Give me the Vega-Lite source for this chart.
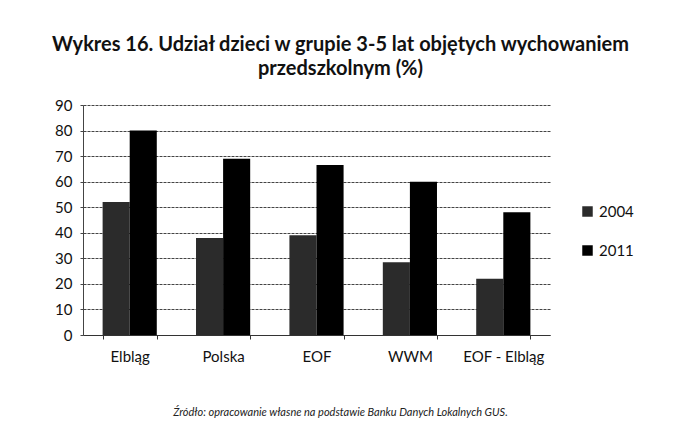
{
  "$schema": "https://vega.github.io/schema/vega-lite/v6.json",
  "width": 467,
  "height": 230,
  "autosize": {"type": "none"},
  "padding": {"left": 83, "top": 105, "right": 123, "bottom": 97},
  "background": "white",
  "config": {"font": "Lato", "view": {"stroke": null}},
  "title": {
    "text": ["Wykres 16. Udział dzieci w grupie 3-5 lat objętych wychowaniem", "przedszkolnym (%)"],
    "anchor": "middle",
    "frame": "group",
    "dx": 24,
    "offset": 19,
    "fontSize": 20,
    "fontWeight": "bold",
    "font": "Lato",
    "color": "#111",
    "lineHeight": 24
  },
  "data": {
    "values": [
      {"region": "Elbląg", "rok": "2004", "wartosc": 52},
      {"region": "Elbląg", "rok": "2011", "wartosc": 80},
      {"region": "Polska", "rok": "2004", "wartosc": 38},
      {"region": "Polska", "rok": "2011", "wartosc": 69},
      {"region": "EOF", "rok": "2004", "wartosc": 39},
      {"region": "EOF", "rok": "2011", "wartosc": 66.5},
      {"region": "WWM", "rok": "2004", "wartosc": 28.5},
      {"region": "WWM", "rok": "2011", "wartosc": 60},
      {"region": "EOF - Elbląg", "rok": "2004", "wartosc": 22},
      {"region": "EOF - Elbląg", "rok": "2011", "wartosc": 48}
    ]
  },
  "mark": {"type": "bar"},
  "encoding": {
    "x": {
      "field": "region",
      "type": "nominal",
      "sort": ["Elbląg", "Polska", "EOF", "WWM", "EOF - Elbląg"],
      "scale": {"paddingInner": 0.42, "paddingOuter": 0.21},
      "axis": {
        "title": "Źródło: opracowanie własne na podstawie Banku Danych Lokalnych GUS.",
        "titleFont": "Lato",
        "titleFontStyle": "italic",
        "titleFontWeight": "normal",
        "titleFontSize": 11,
        "titleColor": "#222",
        "titlePadding": 42,
        "titleX": 257,
        "labelAngle": 0,
        "labelFontSize": 15,
        "labelColor": "#111",
        "labelPadding": 10,
        "tickBand": "extent",
        "tickSize": 4,
        "tickColor": "#333",
        "domainColor": "#333",
        "grid": false
      }
    },
    "xOffset": {"field": "rok", "type": "nominal", "scale": {"paddingInner": 0}},
    "y": {
      "field": "wartosc",
      "type": "quantitative",
      "scale": {"domain": [0, 90]},
      "axis": {
        "title": null,
        "values": [0, 10, 20, 30, 40, 50, 60, 70, 80, 90],
        "labelFontSize": 15,
        "labelColor": "#111",
        "labelPadding": 8,
        "tickSize": 3,
        "tickColor": "#444",
        "domainColor": "#444",
        "gridColor": "#444",
        "gridWidth": 1,
        "gridDash": [3, 1]
      }
    },
    "color": {
      "field": "rok",
      "type": "nominal",
      "scale": {"domain": ["2004", "2011"], "range": ["#2b2b2b", "#000000"]},
      "legend": {
        "title": null,
        "orient": "none",
        "legendX": 497,
        "legendY": 99,
        "symbolType": "square",
        "symbolSize": 110,
        "labelFontSize": 15,
        "labelColor": "#111",
        "rowPadding": 23
      }
    }
  }
}
